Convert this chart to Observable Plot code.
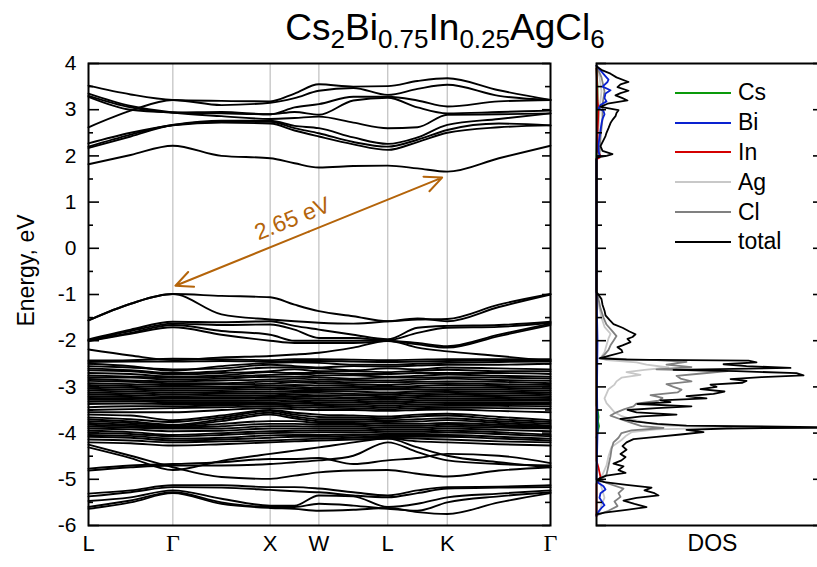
<!DOCTYPE html>
<html><head><meta charset="utf-8">
<script src="https://cdn.jsdelivr.net/npm/d3@7"></script>
<script src="https://cdn.jsdelivr.net/npm/@observablehq/plot@0.6"></script>
<style>
body{margin:0;background:#fff;}
#wrap{position:relative;width:817px;height:567px;overflow:hidden;background:#fff;font-family:'Liberation Sans',Arial,sans-serif;color:#000;}
#title{position:absolute;left:445px;top:9px;transform:translateX(-50%);font-size:37px;white-space:nowrap;line-height:1;}
#title sub{font-size:26px;vertical-align:-8px;line-height:0;}
#bands{position:absolute;left:0;top:0;width:560px;height:567px;}
#dos{position:absolute;left:560px;top:0;width:262px;height:567px;}
#bands svg,#dos svg{max-width:none;}
#legend{position:absolute;left:675px;top:78px;font-size:23px;}
.lg{display:flex;align-items:center;height:29.8px;}
.lg svg{margin-right:7px;}
</style></head>
<body><div id="wrap">
<div id="bands"></div><div id="dos"></div>
<div id="title">Cs<sub>2</sub>Bi<sub>0.75</sub>In<sub>0.25</sub>AgCl<sub>6</sub></div>
<div id="legend"></div>
</div>
<script>
// ---- k-path ----
const kPath = [0, 0.433, 0.866, 1.366, 1.866, 2.116, 2.366, 2.72, 3.073, 3.379, 3.685, 4.215, 4.745];
const kTicks = [0, 0.866, 1.866, 2.366, 3.073, 3.685, 4.745];
const kLabels = ["L", "Γ", "X", "W", "L", "K", "Γ"];
const energyTicks = [-6, -5, -4, -3, -2, -1, 0, 1, 2, 3, 4];
const energyMinorTicks = [-5.5, -4.5, -3.5, -2.5, -1.5, -0.5, 0.5, 1.5, 2.5, 3.5];

// ---- bands: energies (eV) at kPath samples: L, ., Γ, ., X, ., W, ., L, ., K, ., Γ ----
const conductionBands = [
  [3.52, 3.33, 3.21, 3.19, 3.18, 3.35, 3.55, 3.50, 3.51, 3.62, 3.68, 3.42, 3.21],
  [2.62, 2.98, 3.21, 3.10, 3.15, 3.25, 3.41, 3.47, 3.32, 3.45, 3.54, 3.30, 3.21],
  [3.30, 3.05, 2.94, 2.95, 2.90, 3.05, 3.12, 3.28, 3.28, 3.20, 3.07, 3.18, 3.21],
  [3.28, 3.00, 2.94, 2.92, 2.90, 2.95, 2.89, 3.20, 3.26, 3.05, 2.92, 2.95, 2.98],
  [3.35, 3.08, 2.94, 2.86, 2.80, 2.82, 2.85, 2.72, 2.60, 2.62, 2.89, 2.90, 2.92],
  [2.27, 2.50, 2.67, 2.76, 2.76, 2.65, 2.60, 2.40, 2.26, 2.40, 2.67, 2.80, 2.92],
  [2.20, 2.46, 2.67, 2.74, 2.74, 2.60, 2.49, 2.30, 2.20, 2.35, 2.56, 2.70, 2.66],
  [2.17, 2.42, 2.66, 2.72, 2.70, 2.55, 2.42, 2.25, 2.13, 2.30, 2.50, 2.62, 2.66],
  [1.82, 2.02, 2.22, 2.00, 1.95, 1.84, 1.75, 1.78, 1.79, 1.73, 1.66, 1.95, 2.22]
];
const upperValenceBands = [
  [-1.56, -1.20, -0.99, -1.03, -1.06, -1.22, -1.36, -1.47, -1.58, -1.54, -1.53, -1.22, -0.99],
  [-1.56, -1.20, -0.99, -1.43, -1.54, -1.58, -1.61, -1.63, -1.58, -1.52, -1.58, -1.27, -1.00],
  [-1.97, -1.76, -1.59, -1.60, -1.58, -1.68, -1.76, -1.87, -1.97, -1.72, -1.68, -1.66, -1.59],
  [-1.99, -1.79, -1.63, -1.66, -1.65, -1.76, -1.94, -1.94, -1.99, -1.83, -1.72, -1.70, -1.61],
  [-2.00, -1.83, -1.66, -1.79, -1.87, -2.00, -2.00, -2.00, -2.00, -2.05, -2.12, -1.87, -1.63],
  [-2.01, -1.85, -1.71, -1.87, -2.00, -2.05, -2.05, -2.05, -2.01, -2.08, -2.15, -1.90, -1.66],
  [-2.19, -2.32, -2.42, -2.36, -2.33, -2.30, -2.26, -2.15, -2.00, -2.15, -2.23, -2.33, -2.44]
];
const denseValenceBandsA = [
  [-2.43, -2.42, -2.39, -2.40, -2.42, -2.40, -2.40, -2.41, -2.42, -2.41, -2.40, -2.40, -2.40],
  [-2.46, -2.45, -2.45, -2.44, -2.45, -2.44, -2.44, -2.45, -2.46, -2.45, -2.44, -2.43, -2.42],
  [-2.50, -2.55, -2.65, -2.55, -2.48, -2.47, -2.48, -2.52, -2.52, -2.50, -2.48, -2.46, -2.45],
  [-2.55, -2.58, -2.62, -2.60, -2.52, -2.55, -2.58, -2.55, -2.56, -2.54, -2.52, -2.52, -2.50],
  [-2.60, -2.64, -2.70, -2.66, -2.58, -2.58, -2.60, -2.64, -2.60, -2.62, -2.58, -2.60, -2.62],
  [-2.64, -2.66, -2.73, -2.70, -2.66, -2.62, -2.66, -2.66, -2.68, -2.65, -2.63, -2.66, -2.66],
  [-2.70, -2.72, -2.78, -2.75, -2.68, -2.70, -2.70, -2.72, -2.72, -2.70, -2.70, -2.70, -2.72],
  [-2.75, -2.78, -2.80, -2.78, -2.74, -2.72, -2.75, -2.75, -2.78, -2.76, -2.73, -2.76, -2.78],
  [-2.79, -2.80, -2.84, -2.82, -2.78, -2.78, -2.79, -2.82, -2.80, -2.80, -2.79, -2.80, -2.82],
  [-2.83, -2.86, -2.88, -2.86, -2.84, -2.82, -2.84, -2.85, -2.86, -2.84, -2.82, -2.85, -2.87],
  [-2.87, -2.89, -2.92, -2.92, -2.88, -2.87, -2.88, -2.90, -2.90, -2.89, -2.88, -2.89, -2.92],
  [-2.92, -2.94, -2.96, -2.95, -2.93, -2.90, -2.92, -2.94, -2.96, -2.93, -2.92, -2.94, -2.96],
  [-2.96, -2.98, -3.00, -3.00, -2.97, -2.96, -2.97, -2.98, -3.00, -2.98, -2.96, -2.98, -3.00],
  [-3.00, -3.02, -3.04, -3.03, -3.01, -3.00, -3.02, -3.02, -3.03, -3.02, -3.01, -3.02, -3.04],
  [-3.04, -3.06, -3.08, -3.07, -3.05, -3.04, -3.05, -3.06, -3.06, -3.06, -3.05, -3.06, -3.08],
  [-3.08, -3.10, -3.12, -3.11, -3.10, -3.09, -3.09, -3.10, -3.12, -3.10, -3.09, -3.10, -3.12],
  [-3.12, -3.14, -3.16, -3.15, -3.14, -3.13, -3.13, -3.15, -3.16, -3.14, -3.13, -3.14, -3.16],
  [-3.16, -3.18, -3.20, -3.19, -3.18, -3.17, -3.18, -3.18, -3.20, -3.18, -3.17, -3.18, -3.20],
  [-3.20, -3.22, -3.24, -3.23, -3.22, -3.21, -3.21, -3.23, -3.24, -3.22, -3.21, -3.22, -3.24],
  [-3.24, -3.25, -3.26, -3.26, -3.25, -3.24, -3.25, -3.26, -3.28, -3.26, -3.25, -3.26, -3.27],
  [-3.28, -3.28, -3.30, -3.30, -3.29, -3.28, -3.29, -3.30, -3.32, -3.30, -3.29, -3.29, -3.30],
  [-3.32, -3.31, -3.33, -3.33, -3.33, -3.32, -3.33, -3.34, -3.36, -3.34, -3.33, -3.33, -3.34],
  [-3.37, -3.36, -3.37, -3.37, -3.36, -3.36, -3.37, -3.38, -3.40, -3.38, -3.37, -3.37, -3.37],
  [-3.44, -3.42, -3.42, -3.40, -3.38, -3.40, -3.41, -3.42, -3.44, -3.42, -3.41, -3.41, -3.42],
  [-3.50, -3.48, -3.46, -3.44, -3.42, -3.44, -3.45, -3.46, -3.48, -3.46, -3.45, -3.46, -3.47],
  [-3.55, -3.55, -3.55, -3.50, -3.46, -3.48, -3.50, -3.50, -3.52, -3.50, -3.49, -3.52, -3.55]
];
const denseValenceBandsB = [
  [-3.60, -3.62, -3.72, -3.62, -3.50, -3.56, -3.60, -3.62, -3.64, -3.60, -3.58, -3.65, -3.72],
  [-3.66, -3.70, -3.76, -3.66, -3.52, -3.60, -3.65, -3.66, -3.68, -3.64, -3.62, -3.70, -3.76],
  [-3.70, -3.75, -3.82, -3.70, -3.56, -3.64, -3.70, -3.70, -3.72, -3.70, -3.68, -3.74, -3.80],
  [-3.74, -3.78, -3.84, -3.74, -3.60, -3.68, -3.74, -3.74, -3.76, -3.75, -3.72, -3.78, -3.84],
  [-3.78, -3.82, -3.86, -3.80, -3.74, -3.74, -3.78, -3.78, -3.80, -3.80, -3.78, -3.82, -3.86],
  [-3.82, -3.85, -3.88, -3.85, -3.80, -3.80, -3.82, -3.82, -3.84, -3.84, -3.82, -3.85, -3.88],
  [-3.86, -3.88, -3.90, -3.90, -3.85, -3.85, -3.86, -3.86, -3.88, -3.88, -3.86, -3.88, -3.90],
  [-3.90, -3.92, -3.96, -3.95, -3.90, -3.90, -3.90, -3.90, -3.92, -3.92, -3.90, -3.93, -3.96],
  [-3.95, -3.98, -4.04, -4.00, -3.96, -3.95, -3.94, -3.94, -3.96, -3.96, -3.95, -3.98, -4.04],
  [-3.99, -4.02, -4.07, -4.04, -4.00, -3.99, -3.98, -3.98, -4.00, -4.00, -3.99, -4.02, -4.07],
  [-4.04, -4.06, -4.12, -4.10, -4.05, -4.04, -4.04, -4.03, -4.04, -4.04, -4.04, -4.08, -4.12],
  [-4.08, -4.10, -4.16, -4.14, -4.10, -4.08, -4.08, -4.06, -4.08, -4.08, -4.08, -4.12, -4.16],
  [-4.14, -4.16, -4.20, -4.18, -4.16, -4.14, -4.12, -4.10, -4.10, -4.12, -4.14, -4.18, -4.20],
  [-4.20, -4.22, -4.27, -4.24, -4.20, -4.18, -4.16, -4.14, -4.12, -4.18, -4.20, -4.24, -4.27]
];
const lowerValenceBands = [
  [-4.25, -4.49, -4.74, -4.95, -4.99, -4.92, -4.85, -4.81, -4.80, -4.88, -4.94, -4.81, -4.74],
  [-4.31, -4.54, -4.80, -4.60, -4.45, -4.38, -4.31, -4.20, -4.12, -4.31, -4.49, -4.63, -4.74],
  [-4.77, -4.70, -4.67, -4.63, -4.56, -4.56, -4.54, -4.67, -4.59, -4.54, -4.45, -4.49, -4.65],
  [-4.81, -4.74, -4.70, -4.70, -4.67, -4.63, -4.59, -4.49, -4.20, -4.41, -4.59, -4.67, -4.70],
  [-5.31, -5.24, -5.13, -5.13, -5.17, -5.17, -5.20, -5.28, -5.35, -5.24, -5.17, -5.16, -5.13],
  [-5.37, -5.28, -5.17, -5.18, -5.23, -5.26, -5.28, -5.35, -5.39, -5.30, -5.20, -5.18, -5.17],
  [-5.47, -5.39, -5.24, -5.42, -5.57, -5.57, -5.35, -5.37, -5.60, -5.53, -5.39, -5.31, -5.24],
  [-5.60, -5.46, -5.28, -5.50, -5.60, -5.60, -5.53, -5.57, -5.64, -5.68, -5.50, -5.37, -5.28],
  [-5.64, -5.50, -5.30, -5.53, -5.62, -5.64, -5.68, -5.66, -5.62, -5.71, -5.75, -5.50, -5.30]
];

// ---- band gap annotation ----
const gapStart = {k: 0.893, e: -0.81};
const gapEnd = {k: 3.632, e: 1.53};
const gapLabel = {k: 2.095, e: 0.64, text: "2.65 eV"};

// ---- DOS (arbitrary units) ----
const totalE = [3.95, 3.92, 3.85, 3.78, 3.70, 3.60, 3.55, 3.49, 3.41, 3.36, 3.31, 3.25, 3.20, 3.13, 3.06, 2.99, 2.93, 2.86, 2.78, 2.71, 2.60, 2.50, 2.43, 2.30, 2.21, 2.11, 2.04, 2.00, 1.97, 1.93,
  -0.95, -0.99, -1.10, -1.22, -1.35, -1.45, -1.55, -1.64, -1.72, -1.80, -1.86, -1.92, -1.96, -2.03, -2.10, -2.14, -2.20, -2.25, -2.32, -2.38, -2.41, -2.43, -2.47, -2.51, -2.55, -2.59, -2.63, -2.66, -2.70, -2.75, -2.79, -2.83, -2.87, -2.91, -2.95, -3.00, -3.05, -3.10, -3.15, -3.20, -3.25, -3.29, -3.33, -3.37, -3.42, -3.46, -3.50, -3.55, -3.60, -3.64, -3.69, -3.75, -3.80, -3.84, -3.87, -3.885, -3.90, -3.93, -3.98, -4.03, -4.08, -4.13, -4.20, -4.28, -4.36, -4.45, -4.52, -4.59, -4.66, -4.72, -4.80, -4.86, -4.92, -4.98, -5.02, -5.06, -5.12, -5.18, -5.24, -5.30, -5.35, -5.40, -5.46, -5.53, -5.60, -5.66, -5.72, -5.76];
const totalV = [0, 1.3, 6, 14, 20, 32, 24, 21, 32, 24, 19, 26, 31, 11, 4, 22, 20, 19, 16, 14, 12, 10, 9, 6, 4, 6, 16, 10, 1, 0,
  0, 1.5, 5, 6, 8, 9, 13, 17, 26, 33, 39, 36, 31, 34, 26, 21, 25, 26, 14, 3, 30, 152, 160, 127, 150, 194, 77, 140, 200, 207, 165, 134, 150, 146, 114, 120, 104, 128, 117, 90, 110, 64, 74, 41, 95, 60, 31, 40, 80, 45, 24, 40, 61, 90, 222, 222, 130, 90, 107, 84, 60, 37, 30, 26, 30, 24, 29, 25, 17, 27, 22, 29, 10, 3, 0.5, 8, 30, 55, 48, 58, 62, 40, 27, 38, 50, 30, 8, 0];
const csE = [3.9, 3.5, 3.2, 2.0, -3.4, -3.55, -3.65, -3.75, -3.85, -3.95, -4.1];
const csV = [0, 1, 1, 0, 0, 1.5, 2, 1.5, 2.5, 1.5, 0];
const biE = [3.95, 3.85, 3.75, 3.65, 3.60, 3.50, 3.42, 3.35, 3.25, 3.18, 3.10, 3.03, 2.97, 2.90, 2.80, 2.70, 2.55, 2.40, 2.25, 2.10, 2.02, 1.97, 1.93, -0.95, -2.0, -3.0, -4.0, -5.0, -5.08, -5.15, -5.22, -5.30, -5.40, -5.50, -5.56, -5.62, -5.70, -5.78];
const biV = [0, 4, 8, 12, 11, 6, 14, 9, 8, 10, 4, 2, 7, 8, 6, 5, 4, 3, 2, 2, 3, 1, 0, 0, 1, 0.5, 1, 0, 2, 7, 9, 4, 3, 6, 8, 5, 2, 0];
const inE = [3.9, 3.2, 3.0, 2.5, 2.1, 2.04, 2.0, 1.96, 1.93, -0.95, -4.6, -4.75, -4.85, -4.95, -5.02, -5.1, -5.8];
const inV = [0, 1, 2, 1, 1, 3, 4, 3, 0, 0, 0, 2, 3, 4, 2, 0, 0];
const agE = [3.95, 3.7, 3.4, 3.0, 2.5, 2.0, 1.93, -0.95, -1.2, -1.5, -1.7, -1.85, -1.95, -2.1, -2.25, -2.38, -2.42, -2.47, -2.52, -2.58, -2.63, -2.68, -2.74, -2.80, -2.88, -2.95, -3.05, -3.15, -3.25, -3.35, -3.45, -3.55, -3.62, -3.70, -3.78, -3.84, -3.88, -3.92, -3.98, -4.05, -4.15, -4.3, -4.5, -4.7, -4.9, -5.0, -5.1, -5.25, -5.4, -5.55, -5.7, -5.8];
const agV = [0, 3, 5, 3, 2, 1, 0, 0, 2, 5, 8, 14, 12, 10, 8, 4, 10, 40, 50, 72, 48, 30, 44, 25, 20, 18, 12, 10, 8, 10, 14, 18, 24, 35, 50, 70, 135, 60, 35, 30, 25, 15, 12, 10, 6, 2, 4, 6, 8, 5, 3, 0];
const clE = [3.95, 3.7, 3.4, 3.1, 2.8, 2.4, 2.0, 1.93, -0.95, -1.1, -1.3, -1.5, -1.65, -1.8, -1.9, -2.0, -2.1, -2.2, -2.3, -2.38, -2.42, -2.46, -2.52, -2.57, -2.62, -2.66, -2.71, -2.76, -2.82, -2.88, -2.94, -3.0, -3.06, -3.12, -3.18, -3.24, -3.30, -3.36, -3.42, -3.48, -3.55, -3.62, -3.70, -3.78, -3.85, -3.89, -3.94, -4.0, -4.1, -4.2, -4.35, -4.5, -4.7, -4.9, -5.0, -5.08, -5.2, -5.3, -5.38, -5.48, -5.58, -5.68, -5.78];
const clV = [0, 5, 8, 6, 6, 4, 3, 0, 0, 2, 4, 7, 10, 16, 20, 17, 14, 12, 8, 4, 60, 90, 70, 95, 60, 131, 105, 80, 84, 95, 70, 77, 85, 81, 54, 66, 62, 40, 37, 28, 20, 14, 24, 35, 45, 67, 35, 25, 22, 17, 15, 14, 12, 10, 3, 10, 27, 22, 24, 18, 21, 12, 0];

const dosSeries = ["Cs", "Bi", "In", "Ag", "Cl", "total"];
const dosColors = ["#0a9a0a", "#0a22d0", "#d40000", "#c8c8c8", "#808080", "#000000"];

// ---- build ----
const FONT = "'Liberation Sans', Arial, sans-serif";
function bandRows(group, name) {
  return group.flatMap((b, i) => b.map((e, j) => ({k: kPath[j], e, band: name + i})));
}
const allBands = [
  ...bandRows(conductionBands, "c"), ...bandRows(upperValenceBands, "v"),
  ...bandRows(denseValenceBandsA, "a"), ...bandRows(denseValenceBandsB, "b"),
  ...bandRows(lowerValenceBands, "l")
];
const kLabelRows = kTicks.map((k, i) => ({k, label: kLabels[i]}));
const innerW = 560 - 88 - 10;
const brown = "#b4640a";
const gapMid = {k: (gapStart.k + gapEnd.k) / 2, e: (gapStart.e + gapEnd.e) / 2};

const bandPlot = Plot.plot({
  width: 560, height: 567,
  marginLeft: 88, marginRight: 10, marginTop: 63, marginBottom: 42,
  style: {fontFamily: FONT, fontSize: "20px", background: "transparent", color: "black", overflow: "visible"},
  x: {domain: [0, 4.745], axis: null},
  y: {domain: [-6, 4], axis: null},
  marks: [
    Plot.ruleX(kTicks.slice(1, -1), {stroke: "#c8c8c8", strokeWidth: 1.4}),
    Plot.line(allBands, {x: "k", y: "e", z: "band", curve: "monotone-x", stroke: "black", strokeWidth: 1.9}),
    Plot.tickY(energyTicks, {y: d => d, insetRight: innerW - 11, stroke: "black", strokeWidth: 1.6}),
    Plot.tickY(energyMinorTicks, {y: d => d, insetRight: innerW - 5, stroke: "black", strokeWidth: 1.6}),
    Plot.tickY(energyTicks, {y: d => d, insetLeft: innerW - 8, stroke: "black", strokeWidth: 1.6}),
    Plot.tickY(energyMinorTicks, {y: d => d, insetLeft: innerW - 5, stroke: "black", strokeWidth: 1.6}),
    Plot.frame({stroke: "black", strokeWidth: 2}),
    Plot.text(energyTicks, {y: d => d, text: d => String(d), frameAnchor: "left", textAnchor: "end", dx: -12, fontSize: 21}),
    Plot.text(["Energy, eV"], {text: d => d, frameAnchor: "left", textAnchor: "middle", rotate: -90, dx: -62, dy: -24, fontSize: 23}),
    Plot.text(kLabelRows.filter(d => d.label !== "Γ"), {x: "k", text: "label", frameAnchor: "bottom", dy: 25, fontSize: 22}),
    Plot.text(kLabelRows.filter(d => d.label === "Γ"), {x: "k", text: "label", frameAnchor: "bottom", dy: 25, fontSize: 24, fontFamily: "'Liberation Serif', 'Times New Roman', serif"}),
    Plot.arrow([gapMid], {x1: "k", y1: "e", x2: () => gapStart.k, y2: () => gapStart.e, stroke: brown, strokeWidth: 2, headLength: 14, headAngle: 50}),
    Plot.arrow([gapMid], {x1: "k", y1: "e", x2: () => gapEnd.k, y2: () => gapEnd.e, stroke: brown, strokeWidth: 2, headLength: 14, headAngle: 50}),
    Plot.text([gapLabel], {x: "k", y: "e", text: "text", rotate: -22, fill: brown, fontSize: 23})
  ]
});
document.getElementById("bands").appendChild(bandPlot);

function dosRows(E, V, name) { return E.map((e, i) => ({e, v: V[i], s: name})); }
const dosData = [dosRows(csE, csV, "Cs"), dosRows(biE, biV, "Bi"), dosRows(inE, inV, "In"),
  dosRows(agE, agV, "Ag"), dosRows(clE, clV, "Cl"), dosRows(totalE, totalV, "total")];
const drawOrder = [3, 4, 0, 2, 1, 5];
const dosInner = 262 - 36 - 2;
const dosPlot = Plot.plot({
  width: 262, height: 567,
  marginLeft: 36, marginRight: 2, marginTop: 63, marginBottom: 42,
  style: {fontFamily: FONT, fontSize: "20px", background: "transparent", color: "black", overflow: "visible"},
  x: {domain: [0, 224], axis: null},
  y: {domain: [-6, 4], axis: null},
  marks: [
    ...drawOrder.map(i => Plot.line(dosData[i], {x: "v", y: "e", stroke: dosColors[i], strokeWidth: 1.8})),
    Plot.tickY(energyTicks, {y: d => d, insetRight: dosInner - 10, stroke: "black", strokeWidth: 1.6}),
    Plot.tickY(energyMinorTicks, {y: d => d, insetRight: dosInner - 6, stroke: "black", strokeWidth: 1.6}),
    Plot.tickY(energyTicks, {y: d => d, insetLeft: dosInner - 7, stroke: "black", strokeWidth: 1.6}),
    Plot.frame({stroke: "black", strokeWidth: 2}),
    Plot.text(["DOS"], {text: d => d, frameAnchor: "bottom", dy: 25, dx: 4, fontSize: 23})
  ]
});
document.getElementById("dos").appendChild(dosPlot);

// legend
const lg = document.getElementById("legend");
dosSeries.forEach((name, i) => {
  const row = document.createElement("div");
  row.className = "lg";
  row.innerHTML = `<svg width="56" height="4"><line x1="0" y1="2" x2="56" y2="2" stroke="${dosColors[i]}" stroke-width="2.2"/></svg><span>${name}</span>`;
  lg.appendChild(row);
});
</script>
</body></html>
